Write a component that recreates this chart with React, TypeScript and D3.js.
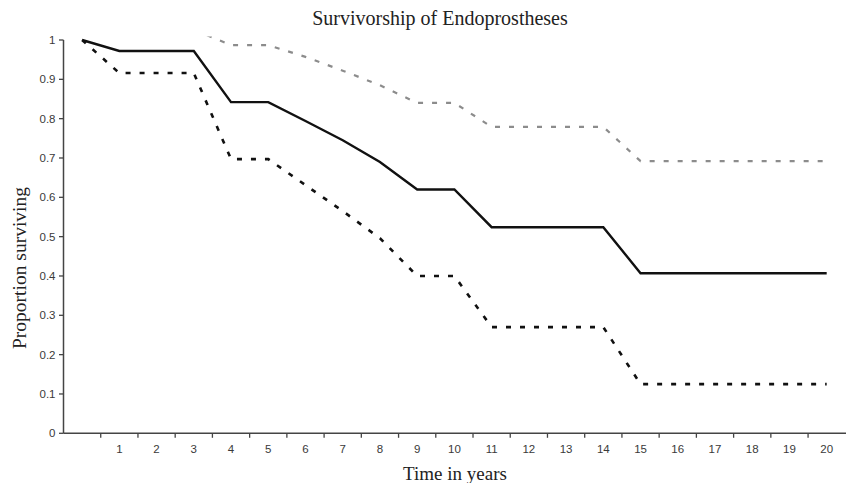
import * as d3 from 'd3'

// Categories on the x axis: first one is unlabeled (time 0)
const years = ['', '1', '2', '3', '4', '5', '6', '7', '8', '9', '10', '11', '12', '13', '14', '15', '16', '17', '18', '19', '20']

// Kaplan-Meier estimate and its confidence limits
const survival = [1.0, 0.972, 0.972, 0.972, 0.842, 0.842, 0.794, 0.745, 0.69, 0.62, 0.62, 0.524, 0.524, 0.524, 0.524, 0.407, 0.407, 0.407, 0.407, 0.407, 0.407]
const upperCI = [1.026, 1.026, 1.026, 1.026, 0.987, 0.987, 0.957, 0.922, 0.885, 0.84, 0.84, 0.779, 0.779, 0.779, 0.779, 0.692, 0.692, 0.692, 0.692, 0.692, 0.692]
const lowerCI = [1.0, 0.916, 0.916, 0.916, 0.697, 0.697, 0.631, 0.565, 0.496, 0.4, 0.4, 0.27, 0.27, 0.27, 0.27, 0.125, 0.125, 0.125, 0.125, 0.125, 0.125]

const yTicks = [0, 0.1, 0.2, 0.3, 0.4, 0.5, 0.6, 0.7, 0.8, 0.9, 1]

const W = 846
const H = 483
const left = 63.5
const right = 845.3
const top = 40
const bottom = 433.3

const sans = '"Liberation Sans", Arial, sans-serif'
const serif = '"Liberation Serif", "Times New Roman", serif'

export default function App() {
  const x = d3.scaleBand<string>().domain(years).range([left, right]).padding(0)
  const y = d3.scaleLinear().domain([0, 1]).range([bottom, top])
  const cx = (i: number) => (x(years[i]) as number) + x.bandwidth() / 2

  const line = d3.line<number>()
    .x((_, i) => cx(i))
    .y(d => y(d))

  // tick marks sit on the boundaries between categories
  const xBounds = years.map(c => x(c) as number)

  return (
    <svg width={W} height={H} style={{ position: 'absolute', left: 0, top: 0, background: '#fff' }}>
      <defs>
        <clipPath id="plot">
          <rect x={left} y={top - 3.5} width={right - left} height={bottom - top + 3.5} />
        </clipPath>
      </defs>

      <text x={440} y={25} textAnchor="middle" fontFamily={serif} fontSize={20} fill="#222">
        Survivorship of Endoprostheses
      </text>

      {/* y axis */}
      <line x1={left} x2={left} y1={top} y2={bottom} stroke="#444" strokeWidth={1.5} />
      {yTicks.map(t => (
        <g key={t}>
          <line x1={left - 4.5} x2={left} y1={y(t)} y2={y(t)} stroke="#444" strokeWidth={1.3} />
          <text x={left - 8} y={y(t)} dy="0.35em" textAnchor="end" fontFamily={sans} fontSize={11.5} fill="#3a3a3a">
            {d3.format('.1~f')(t)}
          </text>
        </g>
      ))}

      {/* x axis */}
      <line x1={left} x2={W} y1={bottom} y2={bottom} stroke="#444" strokeWidth={1.5} />
      {xBounds.slice(1).map((b, i) => (
        <line key={i} x1={b} x2={b} y1={bottom} y2={bottom + 4.5} stroke="#444" strokeWidth={1.3} />
      ))}
      {years.map((c, i) => (
        <text key={c + i} x={cx(i)} y={bottom + 16} dy="0.35em" textAnchor="middle" fontFamily={sans} fontSize={11.5} fill="#3a3a3a">
          {c}
        </text>
      ))}

      <g clipPath="url(#plot)" fill="none">
        <path d={line(upperCI) as string} stroke="#8c8c8c" strokeWidth={2.2} strokeDasharray="5 9" />
        <path d={line(lowerCI) as string} stroke="#111" strokeWidth={2.6} strokeDasharray="5 9" />
        <path d={line(survival) as string} stroke="#111" strokeWidth={2.4} strokeLinejoin="miter" />
      </g>

      <text x={455} y={480} textAnchor="middle" fontFamily={serif} fontSize={19} fill="#222">
        Time in years
      </text>
      <text transform={`translate(26, 268) rotate(-90)`} textAnchor="middle" fontFamily={serif} fontSize={19.5} fill="#222">
        Proportion surviving
      </text>
    </svg>
  )
}
